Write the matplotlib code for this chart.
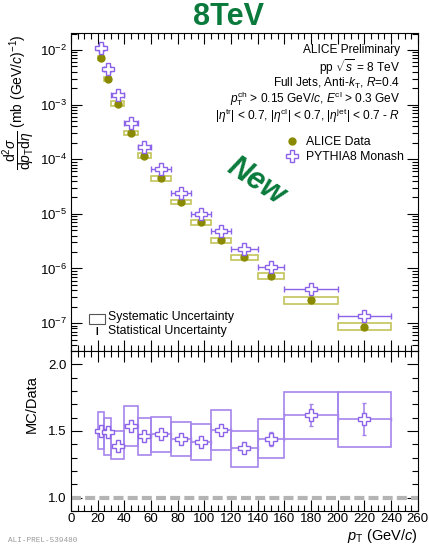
import numpy as np
import matplotlib.pyplot as plt
from matplotlib.lines import Line2D
from matplotlib.ticker import MultipleLocator, LogLocator, NullFormatter


plt.rcParams["font.family"] = ["Liberation Sans", "DejaVu Sans"]
plt.rcParams["mathtext.fontset"] = "custom"
plt.rcParams["mathtext.rm"] = "Liberation Sans"
plt.rcParams["mathtext.it"] = "Liberation Sans:italic"
plt.rcParams["mathtext.bf"] = "Liberation Sans:bold"

# jet pT bins (GeV/c)
bin_lo = [20, 25, 30, 40, 50, 60, 75, 90, 105, 120, 140, 160, 200]
bin_hi = [25, 30, 40, 50, 60, 75, 90, 105, 120, 140, 160, 200, 240]

# ALICE data cross section (mb (GeV/c)^-1)
data_xsec = [7.05e-3, 2.98e-3, 1.04e-3, 3.05e-4, 1.16e-4, 4.45e-5, 1.66e-5,
             6.95e-6, 3.28e-6, 1.60e-6, 7.4e-7, 2.6e-7, 8.65e-8]
data_sys_rel = [0.08, 0.08, 0.10, 0.10, 0.10, 0.10, 0.10,
                0.11, 0.11, 0.12, 0.12, 0.14, 0.15]
data_stat_rel = [0.01, 0.01, 0.01, 0.01, 0.01, 0.01, 0.015,
                 0.015, 0.02, 0.02, 0.03, 0.04, 0.06]

# PYTHIA8 Monash cross section
pythia_xsec = [1.07e-2, 4.55e-3, 1.50e-3, 4.66e-4, 1.68e-4, 6.56e-5, 2.38e-5,
               1.00e-5, 4.86e-6, 2.24e-6, 1.06e-6, 4.2e-7, 1.36e-7]

# MC/Data ratio
ratio = [1.50, 1.49, 1.39, 1.54, 1.46, 1.475, 1.44,
         1.42, 1.505, 1.37, 1.44, 1.62, 1.59]
ratio_sys_hi = [1.64, 1.595, 1.50, 1.685, 1.595, 1.607, 1.568,
                1.555, 1.657, 1.50, 1.587, 1.795, 1.795]
ratio_sys_lo = [1.363, 1.32, 1.29, 1.39, 1.32, 1.345, 1.315,
                1.28, 1.357, 1.232, 1.295, 1.438, 1.378]
ratio_stat = [0.012, 0.012, 0.015, 0.015, 0.015, 0.015, 0.015,
              0.015, 0.02, 0.025, 0.05, 0.08, 0.12]

OLIVE = "#8a8a00"
OLIVE_BOX = "#c4c45a"
PURPLE = "#8c62e8"
PURPLE_BOX = "#a585ec"
GREEN = "#0a7a3c"


lo = np.array(bin_lo, dtype=float)
hi = np.array(bin_hi, dtype=float)
centre = 0.5 * (lo + hi)
half = 0.5 * (hi - lo)
width = hi - lo

data_xsec = np.array(data_xsec)
pythia_xsec = np.array(pythia_xsec)
ratio = np.array(ratio)

fig = plt.figure(figsize=(4.29, 5.44), dpi=100)

ax = fig.add_axes([0.1655, 0.3548, 0.8085, 0.5845])
ax_r = fig.add_axes([0.1655, 0.0607, 0.8085, 0.2941], sharex=ax)


def style_axis(a):
    a.tick_params(which="both", direction="in", top=True, right=True,
                  labelsize=9.5, width=0.8, pad=3)
    a.tick_params(which="major", length=8)
    a.tick_params(which="minor", length=4)
    for s in a.spines.values():
        s.set_linewidth(0.8)


# ---- top panel ----
sys_lo = data_xsec * (1 - np.array(data_sys_rel))
sys_hi = data_xsec * (1 + np.array(data_sys_rel))
ax.bar(lo, sys_hi - sys_lo, bottom=sys_lo, width=width, align="edge",
       fill=False, edgecolor=OLIVE_BOX, linewidth=1.2)

ax.errorbar(centre, data_xsec, yerr=data_xsec * np.array(data_stat_rel),
            fmt="o", color=OLIVE, ms=5, elinewidth=1, capsize=0)

ax.errorbar(centre, pythia_xsec, xerr=half, fmt="P", ms=9,
            mfc="white", mec=PURPLE, mew=1, ecolor=PURPLE,
            elinewidth=1, capsize=2)

ax.set_yscale("log")
ax.set_ylim(10 ** -7.51, 10 ** -1.69)
ax.set_xlim(0, 260)
ax.yaxis.set_major_locator(LogLocator(base=10, numticks=20))
ax.yaxis.set_minor_locator(LogLocator(base=10, subs=np.arange(2, 10), numticks=20))
ax.yaxis.set_minor_formatter(NullFormatter())
ax.xaxis.set_major_locator(MultipleLocator(20))
ax.xaxis.set_minor_locator(MultipleLocator(5))
style_axis(ax)
ax.tick_params(labelbottom=False)

# info text
info = [
    "ALICE Preliminary",
    r"pp $\sqrt{s}$ = 8 TeV",
    r"Full Jets, Anti-$k_{\mathrm{T}}$, $R$=0.4",
    r"$p_{\mathrm{T}}^{\mathrm{ch}}$ > 0.15 GeV/$c$, $E^{\mathrm{cl}}$ > 0.3 GeV",
    r"|$\eta^{\mathrm{tr}}$| < 0.7, |$\eta^{\mathrm{cl}}$| < 0.7, |$\eta^{\mathrm{jet}}$| < 0.7 - $R$",
]
info_y = [50, 67, 83, 99, 116]
for txt, yp in zip(info, info_y):
    fig.text(400 / 429, 1 - yp / 544, txt, ha="right", va="center", fontsize=8.6)

handles = [
    Line2D([], [], marker="o", color=OLIVE, ls="none", ms=5),
    Line2D([], [], marker="P", mfc="white", mec=PURPLE, ls="none", ms=8),
]
ax.legend(handles, ["ALICE Data", "PYTHIA8 Monash"], loc="upper left",
          bbox_to_anchor=(0.58, 0.71), frameon=False, fontsize=8.8,
          handletextpad=0.4, labelspacing=0.25, handlelength=1.5)

# uncertainty legend
fig.patches.append(plt.Rectangle((89 / 429, 1 - 324 / 544), 16 / 429, 10 / 544,
                                 transform=fig.transFigure, fill=False,
                                 edgecolor="#555555", linewidth=0.8))
fig.text(108 / 429, 1 - 317 / 544, "Systematic Uncertainty", ha="left",
         va="center", fontsize=8.8)
fig.text(97 / 429, 1 - 332 / 544, "I", ha="center", va="center",
         fontsize=7, fontweight="bold")
fig.text(108 / 429, 1 - 331 / 544, "Statistical Uncertainty", ha="left",
         va="center", fontsize=8.8)

fig.text(19 / 429, 1 - 102 / 544,
         r"$\dfrac{\mathrm{d}^{2}\sigma}{\mathrm{d}p_{\mathrm{T}}\mathrm{d}\eta}$ (mb (GeV/$c$)$^{-1}$)",
         rotation=90, ha="center", va="center", fontsize=10)

fig.text(229 / 429, 1 - 17 / 544, "8TeV", ha="center", va="center",
         fontsize=22, fontweight="bold", color=GREEN)
fig.text(256 / 429, 1 - 181 / 544, "New", ha="center", va="center",
         fontsize=22, fontweight="bold", fontstyle="italic", color=GREEN,
         rotation=-33)

# ---- ratio panel ----
ax_r.axhline(1.0, color="#b4b4b4", linewidth=3, linestyle=(0, (2.4, 1.0)))

r_lo = np.array(ratio_sys_lo)
r_hi = np.array(ratio_sys_hi)
ax_r.bar(lo, r_hi - r_lo, bottom=r_lo, width=width, align="edge",
         fill=False, edgecolor=PURPLE_BOX, linewidth=1.2)

ax_r.errorbar(centre, ratio, xerr=half, yerr=ratio_stat, fmt="P", ms=9,
              mfc="white", mec=PURPLE, mew=1, ecolor=PURPLE_BOX,
              elinewidth=1.2, capsize=1.5)

ax_r.set_ylim(0.9, 2.1)
ax_r.set_xlim(0, 260)
ax_r.yaxis.set_major_locator(MultipleLocator(0.5))
ax_r.yaxis.set_minor_locator(MultipleLocator(0.1))
ax_r.yaxis.set_major_formatter(plt.FormatStrFormatter("%.1f"))
style_axis(ax_r)
ax_r.tick_params(axis="x", pad=1.5)

fig.text(32 / 429, 1 - 404 / 544, "MC/Data", rotation=90, ha="center",
         va="center", fontsize=10.5)
fig.text(418 / 429, 1 - 540 / 544, r"$p_{\mathrm{T}}$ (GeV/$c$)", ha="right",
         va="baseline", fontsize=10.5)

fig.text(8 / 429, 1 - 540 / 544, "ALI-PREL-539480", ha="left", va="center",
         fontsize=5.5, color="#999999", family="Liberation Mono")

fig.savefig("out.png", dpi=100)
